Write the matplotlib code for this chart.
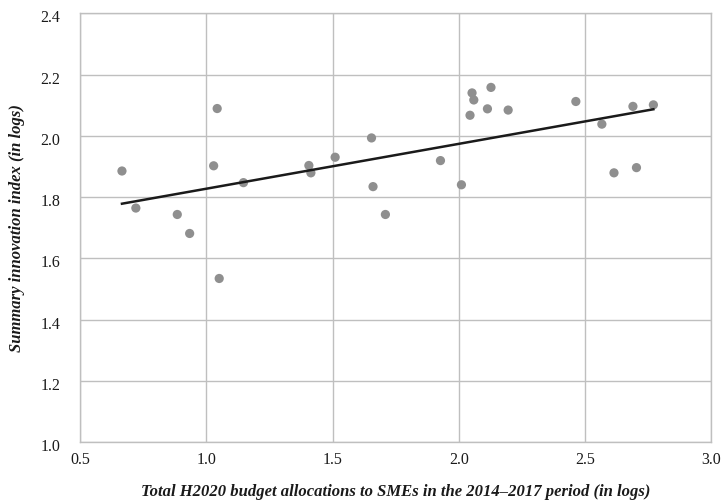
import numpy as np
import matplotlib

matplotlib.use("Agg")
import matplotlib.pyplot as plt  # noqa: E402
from matplotlib.transforms import ScaledTranslation  # noqa: E402

# H2020 SME allocations (logs) vs summary innovation index (logs)
budget_log = [0.666, 0.721, 0.885, 0.934, 1.029, 1.043, 1.051, 1.147,
              1.406, 1.414, 1.510, 1.654, 1.660, 1.709, 1.927, 2.010,
              2.044, 2.052, 2.059, 2.113, 2.127, 2.195, 2.463, 2.566,
              2.614, 2.689, 2.703, 2.770]
innovation_log = [1.885, 1.764, 1.743, 1.681, 1.902, 2.089, 1.534, 1.847,
                  1.903, 1.879, 1.930, 1.993, 1.834, 1.743, 1.919, 1.840,
                  2.067, 2.140, 2.117, 2.088, 2.158, 2.084, 2.112, 2.038,
                  1.879, 2.096, 1.896, 2.101]

x_ticks = [0.5, 1.0, 1.5, 2.0, 2.5, 3.0]
y_ticks = [1.0, 1.2, 1.4, 1.6, 1.8, 2.0, 2.2, 2.4]

SERIF = ["Liberation Serif", "DejaVu Serif"]
GRID = "#bfbfbf"
DOT = "#8f8f8f"
INK = "#1a1a1a"

plt.rcParams["font.family"] = SERIF

fig = plt.figure(figsize=(7.21, 5.0), dpi=100)
ax = fig.add_axes([0.111, 0.116, 0.8758, 0.8574])

x = np.array(budget_log)
y = np.array(innovation_log)
ax.scatter(x, y, s=44, color=DOT, edgecolors="none", zorder=3)

# least-squares trend line over the observed range
slope, icpt = np.polyfit(x, y, 1)
xs = np.array([x.min(), x.max()])
ax.plot(xs, slope * xs + icpt, color=INK, linewidth=1.8, zorder=4)

ax.set_xlim(x_ticks[0], x_ticks[-1])
ax.set_ylim(y_ticks[0], y_ticks[-1])
ax.set_xticks(x_ticks)
ax.set_yticks(y_ticks)
ax.set_xticklabels([f"{t:.1f}" for t in x_ticks])
ax.set_yticklabels([f"{t:.1f}" for t in y_ticks], va="center_baseline")
ax.tick_params(length=0, labelsize=11.5, colors=INK)
ax.tick_params(axis="y", pad=14)
ax.tick_params(axis="x", pad=7)
# y labels sit a touch below their gridlines in the original
nudge = ScaledTranslation(0, -0.03, fig.dpi_scale_trans)
for lab in ax.get_yticklabels():
    lab.set_transform(lab.get_transform() + nudge)

ax.grid(True, color=GRID, linewidth=1.0)
ax.set_axisbelow(True)
for spine in ax.spines.values():
    spine.set_color(GRID)
    spine.set_linewidth(1.0)

ax.set_xlabel("Total H2020 budget allocations to SMEs in the 2014\u20132017 period (in logs)",
              fontsize=12, fontweight="bold", fontstyle="italic", color=INK, labelpad=12)
ax.set_ylabel("Summary innovation index (in logs)",
              fontsize=12, fontweight="bold", fontstyle="italic", color=INK, labelpad=11)

fig.savefig("out.png", dpi=100)
